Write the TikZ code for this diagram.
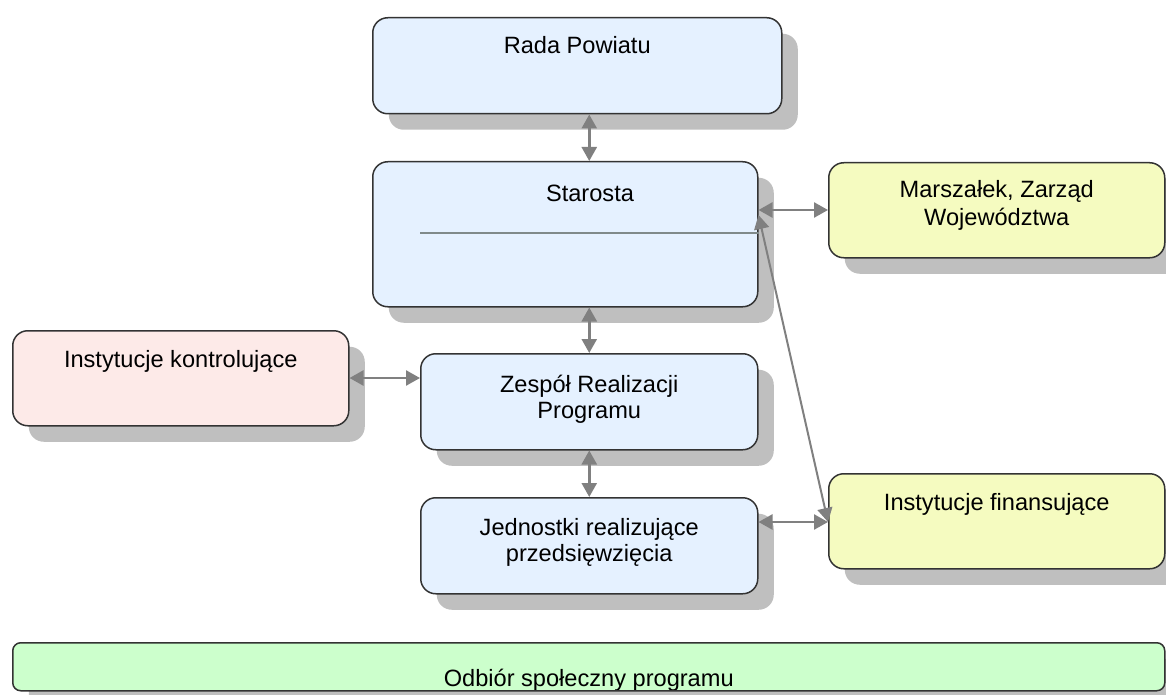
\documentclass[tikz,border=0pt]{standalone}
\usepackage{fontspec}
\setmainfont{Liberation Sans}
\usetikzlibrary{arrows.meta,shadows,calc}
\definecolor{bluefill}{RGB}{229,241,255}
\definecolor{yellowfill}{RGB}{245,251,192}
\definecolor{pinkfill}{RGB}{253,234,232}
\definecolor{greenfill}{RGB}{204,255,204}
\definecolor{shadowgray}{RGB}{191,191,191}
\definecolor{bordercol}{RGB}{51,51,51}
\definecolor{arrowgray}{RGB}{128,128,128}
\definecolor{linegray}{RGB}{128,138,138}
\begin{document}
\begin{tikzpicture}[x=1pt,y=-1pt,
  box/.style={draw=bordercol, line width=1.5pt, rounded corners=15pt, anchor=north west, inner sep=0pt,
    drop shadow={shadow xshift=16pt, shadow yshift=-16pt, fill=shadowgray, opacity=1}},
  lbl/.style={font=\fontsize{23.6}{27}\selectfont, inner sep=0pt, anchor=base},
  link/.style={draw=arrowgray, line width=2.5pt, {Triangle[length=14pt,width=15pt]}-{Triangle[length=14pt,width=15pt]}},
  thinlink/.style={draw=arrowgray, line width=2pt, {Triangle[length=14pt,width=15pt]}-{Triangle[length=14pt,width=15pt]}},
]
\useasboundingbox (0,0) rectangle (1166,695);

% boxes
\node[box, fill=bluefill, minimum width=409pt, minimum height=96pt] (rada) at (372,17) {};
\node[box, fill=bluefill, minimum width=385pt, minimum height=145pt] (starosta) at (372,161) {};
\node[box, fill=yellowfill, minimum width=336pt, minimum height=95pt] (marsz) at (828,162) {};
\node[box, fill=pinkfill, minimum width=336pt, minimum height=95pt] (kontr) at (12,330) {};
\node[box, fill=bluefill, minimum width=337pt, minimum height=96pt] (zespol) at (420,353) {};
\node[box, fill=bluefill, minimum width=337pt, minimum height=96pt] (jedn) at (420,497) {};
\node[box, fill=yellowfill, minimum width=336pt, minimum height=95pt] (finans) at (828,473) {};
\node[box, fill=greenfill, rounded corners=8pt, minimum width=1152pt, minimum height=48pt] (odbior) at (12,642) {};

% texts
\node[lbl] (radaT) at ($(rada.north)+(0,37)$) {Rada Powiatu};
\node[lbl] (starostaT) at ($(starosta.north west)+(218,40)$) {Starosta};
\draw[draw=linegray, line width=1.5pt] ($(starosta.north west)+(48,72)$) -- ($(starosta.north east)+(0,72)$);
\node[lbl] (marszT1) at ($(marsz.north)+(0,35)$) {Marszałek, Zarząd};
\node[lbl] (marszT2) at ($(marsz.north)+(0,63)$) {Województwa};
\node[lbl] (kontrT) at ($(kontr.north)+(0,37)$) {Instytucje kontrolujące};
\node[lbl] (zespolT1) at ($(zespol.north)+(0,39)$) {Zespół Realizacji};
\node[lbl] (zespolT2) at ($(zespol.north)+(0,65)$) {Programu};
\node[lbl] (jednT1) at ($(jedn.north)+(0,38)$) {Jednostki realizujące};
\node[lbl] (jednT2) at ($(jedn.north)+(0,64)$) {przedsięwzięcia};
\node[lbl] (finansT) at ($(finans.north)+(0,37)$) {Instytucje finansujące};
\begin{scope}
  \clip ($(odbior.north west)+(1,1)$) rectangle ($(odbior.south east)+(-1,-2)$);
  \node[lbl] (odbiorT) at ($(odbior.south)+(0,-5)$) {Odbiór społeczny programu};
\end{scope}

% connectors
\coordinate (mIn) at ($(marsz.north west)+(0,48)$);
\coordinate (fIn) at ($(finans.north west)+(0,49)$);
\coordinate (kOut) at ($(kontr.north east)+(0,48)$);
\coordinate (sDiag) at ($(starosta.north east)+(0,54)$);
\draw[link] (rada.south -| zespol.north) -- (starosta.north -| zespol.north);
\draw[link] (starosta.south -| zespol.north) -- (zespol.north);
\draw[link] (zespol.south) -- (jedn.north);
\draw[link] (kOut) -- (kOut -| zespol.west);
\draw[link] (mIn -| starosta.east) -- (mIn);
\draw[link] (fIn -| jedn.east) -- (fIn);
\draw[thinlink] (sDiag) -- (fIn);
\end{tikzpicture}
\end{document}
